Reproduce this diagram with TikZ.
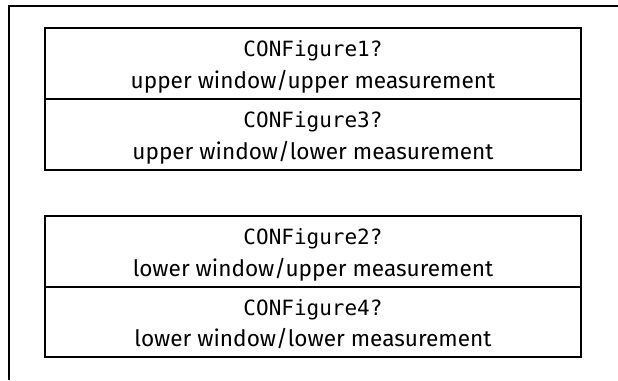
\documentclass[tikz,border=0pt]{standalone}
\usepackage{fontspec}
\setmainfont{Fira Sans}
\newfontfamily\monof{DejaVu Sans Mono}
\begin{document}
\begin{tikzpicture}[x=1pt,y=-1pt,
  frame/.style={line width=2.2pt},
  cell/.style={draw,line width=2.2pt,minimum width=536pt,anchor=north west,inner sep=0pt,outer sep=0pt},
  cmd/.style={anchor=base,inner sep=0pt,font=\monof\fontsize{21}{24}\selectfont},
  desc/.style={anchor=base,inner sep=0pt,font=\fontsize{22.6}{26}\selectfont}]
\useasboundingbox (0,0) rectangle (618,380);
\coordinate (fb) at (9,380);
\coordinate (ftl) at (9,6);
\coordinate (fr) at (618,6);
\draw[frame] (fb) -- (ftl) -- (fr);
\node[cell,minimum height=71pt] (b1) at (45,28) {};
\node[cell,minimum height=71pt] (b3) at (45,99) {};
\node[cell,minimum height=71pt] (b2) at (45,216) {};
\node[cell,minimum height=70pt] (b4) at (45,287) {};
\node[cmd] (c1) at (313,56) {CONFigure1?};
\node[desc] (d1) at (313,88) {upper window/upper measurement};
\node[cmd] (c3) at (313,127) {CONFigure3?};
\node[desc] (d3) at (313,159) {upper window/lower measurement};
\node[cmd] (c2) at (313,244) {CONFigure2?};
\node[desc] (d2) at (313,276) {lower window/upper measurement};
\node[cmd] (c4) at (313,315) {CONFigure4?};
\node[desc] (d4) at (313,346) {lower window/lower measurement};
\end{tikzpicture}
\end{document}
